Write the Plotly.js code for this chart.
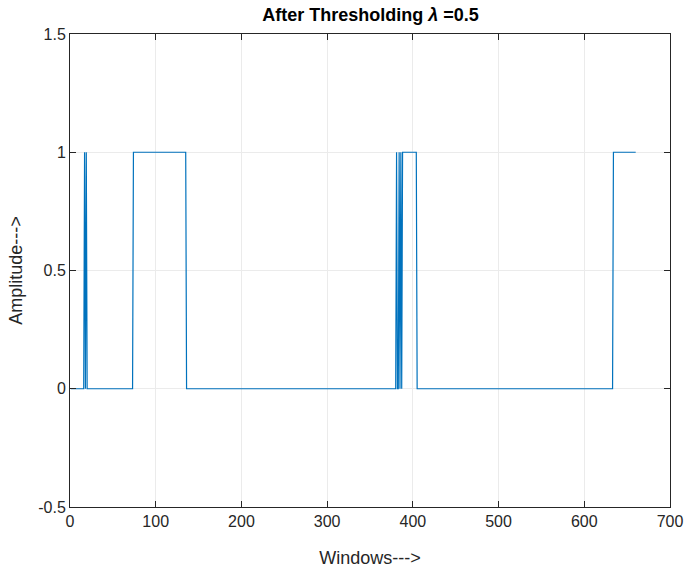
<!DOCTYPE html>
<html>
<head>
<meta charset="utf-8">
<script src="https://cdn.plot.ly/plotly-3.0.1.min.js"></script>
<style>
  html, body { margin: 0; padding: 0; background: #fff; }
  #chart { width: 686px; height: 571px; }
</style>
</head>
<body>
<div id="chart"></div>
<script>
// Thresholded detector output: breakpoints of the 0/1 signal per window
const windowIdx = [1, 16, 17, 18, 19, 20, 73, 74, 135, 136, 380, 381, 382, 383, 384, 385, 386, 387, 388, 404, 405, 633, 634, 660];
const amplitude = [0, 0, 1, 0, 1, 0, 0, 1, 1, 0, 0, 1, 0, 0, 1, 0, 1, 0, 1, 1, 0, 0, 1, 1];

const xTicks = [0, 100, 200, 300, 400, 500, 600, 700];
const yTicks = [-0.5, 0, 0.5, 1, 1.5];

const axisCommon = {
  showline: true,
  linecolor: '#262626',
  linewidth: 1,
  mirror: 'allticks',
  ticks: 'inside',
  ticklen: 6,
  tickcolor: '#262626',
  showgrid: true,
  gridcolor: '#ebebeb',
  gridwidth: 1,
  zeroline: false,
  tickfont: { family: 'Liberation Sans, Arial, sans-serif', size: 16, color: '#262626' }
};

const trace = {
  x: windowIdx,
  y: amplitude,
  type: 'scatter',
  mode: 'lines',
  line: { color: '#0072BD', width: 1.2 },
  hoverinfo: 'skip'
};

const layout = {
  width: 686,
  height: 571,
  margin: { l: 70, r: 16, t: 34, b: 64 },
  paper_bgcolor: '#ffffff',
  plot_bgcolor: '#ffffff',
  showlegend: false,
  title: {
    text: '<b>After Thresholding <i>λ</i> =0.5</b>',
    font: { family: 'Liberation Sans, Arial, sans-serif', size: 18, color: '#000' },
    x: 0.54,
    xanchor: 'center',
    y: 0.975,
    yanchor: 'middle'
  },
  xaxis: Object.assign({}, axisCommon, {
    range: [0, 700],
    tickvals: xTicks,
    ticktext: xTicks.map(String),
    title: { text: 'Windows--->', font: { family: 'Liberation Sans, Arial, sans-serif', size: 18, color: '#262626' }, standoff: 22 }
  }),
  yaxis: Object.assign({}, axisCommon, {
    range: [-0.5, 1.5],
    tickvals: yTicks,
    ticktext: yTicks.map(String),
    title: { text: 'Amplitude--->', font: { family: 'Liberation Sans, Arial, sans-serif', size: 18, color: '#262626' }, standoff: 10 }
  })
};

Plotly.newPlot('chart', [trace], layout, { displayModeBar: false, staticPlot: true });
</script>
</body>
</html>
